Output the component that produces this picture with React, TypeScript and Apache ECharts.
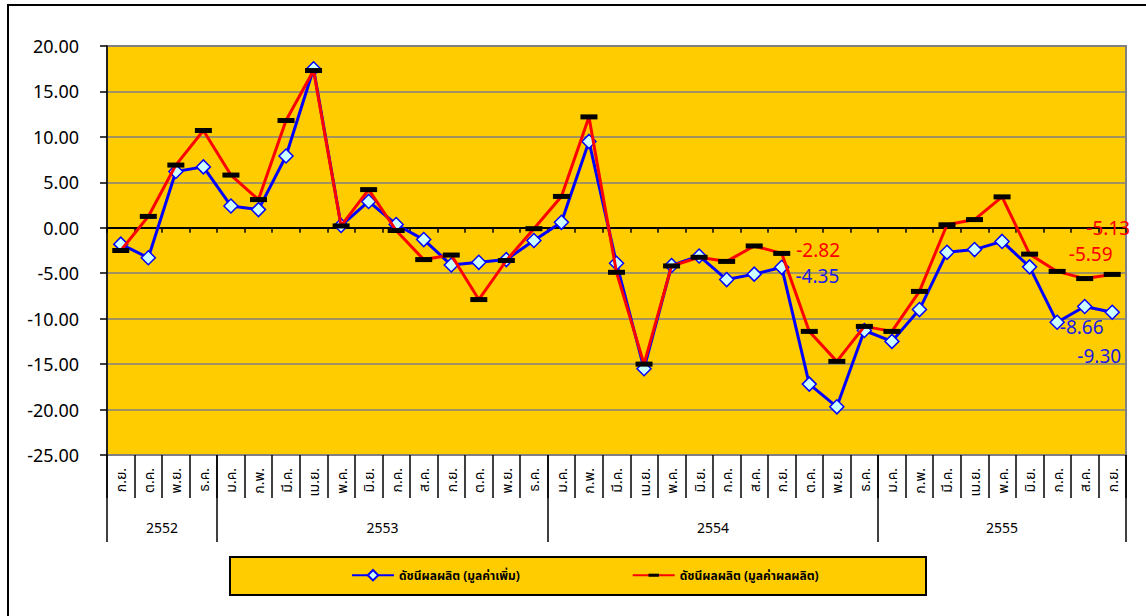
import React, { useEffect, useRef } from "react";
import * as echarts from "echarts";

// ---- data ----
const years = ["2552", "2553", "2554", "2555"];
const monthsPerYear = [4, 12, 12, 9];
const monthLabels = [
  "ก.ย.", "ต.ค.", "พ.ย.", "ธ.ค.",
  "ม.ค.", "ก.พ.", "มี.ค.", "เม.ย.", "พ.ค.", "มิ.ย.", "ก.ค.", "ส.ค.", "ก.ย.", "ต.ค.", "พ.ย.", "ธ.ค.",
  "ม.ค.", "ก.พ.", "มี.ค.", "เม.ย.", "พ.ค.", "มิ.ย.", "ก.ค.", "ส.ค.", "ก.ย.", "ต.ค.", "พ.ย.", "ธ.ค.",
  "ม.ค.", "ก.พ.", "มี.ค.", "เม.ย.", "พ.ค.", "มิ.ย.", "ก.ค.", "ส.ค.", "ก.ย.",
];
const seriesNames = ["ดัชนีผลผลิต (มูลค่าเพิ่ม)", "ดัชนีผลผลิต (มูลค่าผลผลิต)"];
const valueAdded = [
  -1.8, -3.3, 6.2, 6.7,
  2.4, 2.0, 7.9, 17.5, 0.25, 2.9, 0.36, -1.3, -4.1, -3.8, -3.5, -1.4,
  0.6, 9.5, -3.9, -15.5, -4.15, -3.1, -5.7, -5.1, -4.35, -17.2, -19.7, -11.3,
  -12.5, -9.0, -2.7, -2.4, -1.5, -4.3, -10.4, -8.66, -9.30,
];
const productionValue = [
  -2.5, 1.25, 6.9, 10.7,
  5.8, 3.1, 11.8, 17.3, 0.2, 4.2, -0.3, -3.5, -3.0, -7.9, -3.6, -0.1,
  3.45, 12.2, -4.9, -15.0, -4.2, -3.25, -3.7, -2.0, -2.82, -11.4, -14.7, -10.85,
  -11.4, -7.0, 0.33, 0.9, 3.4, -2.9, -4.8, -5.59, -5.13,
];
const yMin = -25;
const yMax = 20;
const yStep = 5;
// indices of points that carry a value label
const valueAddedLabelled = [24, 35, 36];
const productionLabelled = [24, 35, 36];

const FONT = "'Noto Sans', 'Noto Sans Thai', Tahoma, 'DejaVu Sans', sans-serif";
// flat black bar marker inside a square bounding box (so the legend keeps it flat)
const BAR_SYMBOL = "path://M0,0M17,17M0,6L17,6L17,11L0,11Z";

export default function App() {
  const ref = useRef<HTMLDivElement>(null);

  useEffect(() => {
    if (!ref.current) return;
    const chart = echarts.init(ref.current, undefined, { renderer: "svg" });

    // year axis: half-month slots, boundaryGap false
    const totalMonths = monthsPerYear.reduce((a, b) => a + b, 0);
    const yearSlots: string[] = new Array(totalMonths * 2 + 1).fill("");
    const boundarySet = new Set<number>([0]);
    let cum = 0;
    years.forEach((y, k) => {
      const start = cum;
      cum += monthsPerYear[k];
      yearSlots[start + cum] = y;
      boundarySet.add(cum * 2);
    });

    const blueLabelCfg: Record<number, any> = {
      24: { position: "right", distance: 6, offset: [0, 9] },
      35: { position: "bottom", distance: 3, offset: [-3, 0] },
      36: { position: "bottom", distance: 5, offset: [-13, 21] },
    };
    const redLabelCfg: Record<number, any> = {
      24: { position: "right", distance: 6, offset: [0, -3] },
      35: { position: "top", distance: 5, offset: [6, -2] },
      36: { position: "top", distance: 5, offset: [-4, -23] },
    };

    const mk = (vals: number[], labelled: number[], cfg: Record<number, any>, color: string) =>
      vals.map((v, i) =>
        labelled.includes(i)
          ? {
              value: v,
              label: {
                show: true,
                formatter: (p: any) => Number(p.value).toFixed(2),
                color,
                fontSize: 19,
                fontFamily: FONT,
                ...cfg[i],
              },
            }
          : v
      );

    chart.setOption({
      animation: false,
      backgroundColor: "#ffffff",
      textStyle: { fontFamily: FONT },
      graphic: [
        {
          type: "rect",
          z: -10,
          shape: { x: 8, y: 5, width: 1160, height: 640 },
          style: { fill: "none", stroke: "#000000", lineWidth: 2 },
          silent: true,
        },
        {
          type: "rect",
          z: 0,
          shape: { x: 230, y: 557, width: 696, height: 38 },
          style: { fill: "#FFCC00", stroke: "#000000", lineWidth: 2 },
          silent: true,
        },
      ],
      grid: {
        left: 107,
        top: 46,
        width: 1019,
        height: 409,
        show: true,
        backgroundColor: "#FFCC00",
        borderColor: "#808080",
        borderWidth: 2,
        containLabel: false,
      },
      legend: {
        left: 351,
        top: 569,
        padding: 0,
        itemWidth: 42,
        itemHeight: 13,
        itemGap: 112,
        textStyle: { fontSize: 12, fontWeight: "bold", color: "#000", fontFamily: FONT },
        data: seriesNames,
      },
      xAxis: [
        {
          type: "category",
          data: monthLabels,
          boundaryGap: true,
          z: 1,
          axisLine: { show: true, onZero: true, lineStyle: { color: "#000", width: 2 } },
          axisTick: { show: true, interval: 0, length: 5, inside: false, lineStyle: { color: "#000", width: 1.5 } },
          axisLabel: { show: false },
          splitLine: { show: false },
        },
        {
          type: "category",
          data: monthLabels,
          position: "bottom",
          boundaryGap: true,
          axisLine: { show: false, onZero: false },
          axisTick: { show: true, interval: 0, length: 43, lineStyle: { color: "#000", width: 1.5 } },
          axisLabel: { show: true, interval: 0, rotate: 90, margin: 13, fontSize: 14, color: "#000", fontFamily: FONT },
          splitLine: { show: false },
        },
        {
          type: "category",
          data: yearSlots,
          position: "bottom",
          boundaryGap: false,
          axisLine: { show: false, onZero: false },
          axisTick: {
            show: true,
            interval: (i: number) => boundarySet.has(i),
            length: 87,
            lineStyle: { color: "#000", width: 1.5 },
          },
          axisLabel: {
            show: true,
            interval: (_i: number, v: string) => v !== "",
            margin: 65,
            fontSize: 14,
            color: "#000",
            fontFamily: FONT,
          },
          splitLine: { show: false },
        },
      ],
      yAxis: {
        type: "value",
        min: yMin,
        max: yMax,
        interval: yStep,
        z: 0,
        axisLine: { show: true, onZero: false, lineStyle: { color: "#000", width: 1.5 } },
        axisTick: { show: true, length: 7, lineStyle: { color: "#000", width: 1.5 } },
        axisLabel: {
          margin: 28,
          fontSize: 18,
          color: "#000",
          fontFamily: FONT,
          formatter: (v: number) => v.toFixed(2),
        },
        splitLine: { show: true, lineStyle: { color: "#808080", width: 1.5 } },
      },
      series: [
        {
          name: seriesNames[0],
          type: "line",
          xAxisIndex: 0,
          z: 3,
          data: mk(valueAdded, valueAddedLabelled, blueLabelCfg, "#1a1ae6"),
          symbol: "diamond",
          symbolSize: 14,
          showAllSymbol: true,
          lineStyle: { color: "#0000FF", width: 3 },
          itemStyle: { color: "#CCFFFF", borderColor: "#0000FF", borderWidth: 1.5 },
          label: { show: false },
        },
        {
          name: seriesNames[1],
          type: "line",
          xAxisIndex: 0,
          z: 4,
          data: mk(productionValue, productionLabelled, redLabelCfg, "#FF0000"),
          symbol: BAR_SYMBOL,
          symbolSize: 17,
          symbolKeepAspect: true,
          showAllSymbol: true,
          lineStyle: { color: "#FF0000", width: 3 },
          itemStyle: { color: "#000000", borderWidth: 0 },
          label: { show: false },
        },
      ],
    });

    return () => chart.dispose();
  }, []);

  return (
    <div
      ref={ref}
      style={{ position: "absolute", left: 0, top: 0, width: 1146, height: 616, background: "#fff" }}
    />
  );
}
